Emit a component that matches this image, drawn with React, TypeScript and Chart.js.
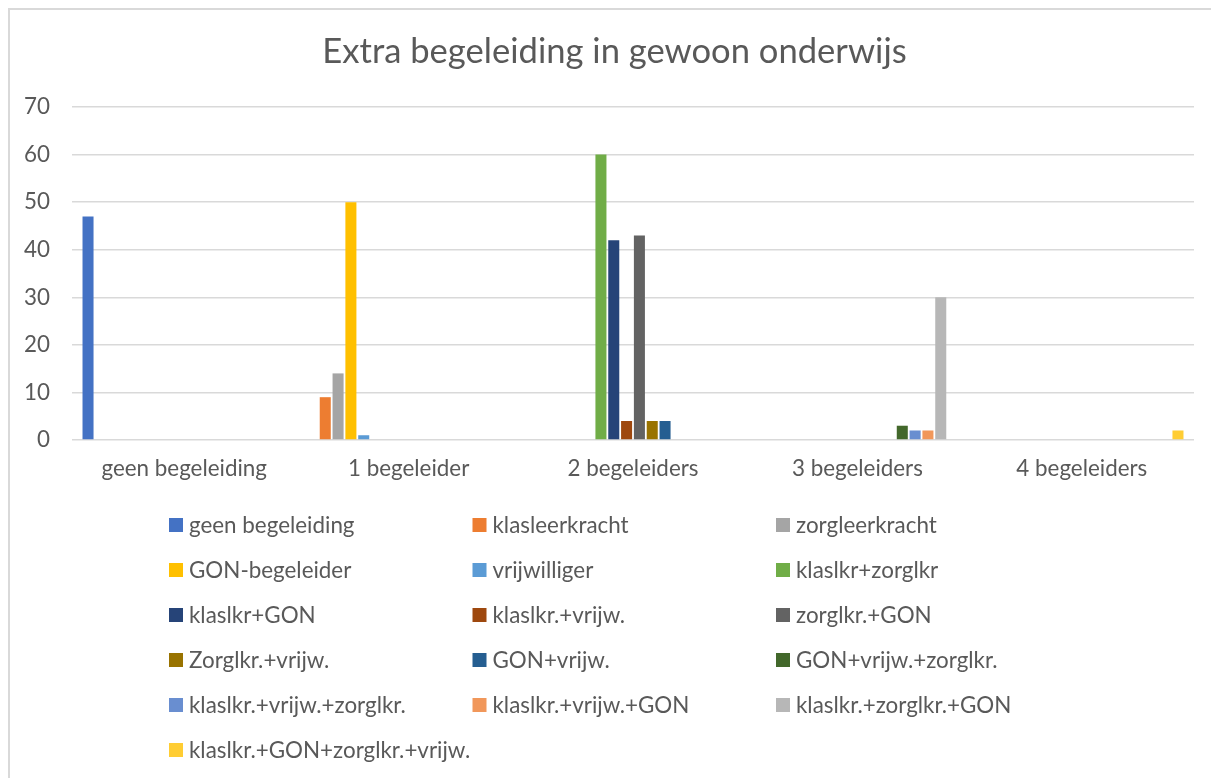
import React, { useEffect, useRef } from 'react';
import { Chart, registerables } from 'chart.js';

Chart.register(...registerables);

// ---------- data ----------
const chartTitle = 'Extra begeleiding in gewoon onderwijs';
const categories = ['geen begeleiding', '1 begeleider', '2 begeleiders', '3 begeleiders', '4 begeleiders'];

const seriesNames = [
  'geen begeleiding', 'klasleerkracht', 'zorgleerkracht',
  'GON-begeleider', 'vrijwilliger', 'klaslkr+zorglkr',
  'klaslkr+GON', 'klaslkr.+vrijw.', 'zorglkr.+GON',
  'Zorglkr.+vrijw.', 'GON+vrijw.', 'GON+vrijw.+zorglkr.',
  'klaslkr.+vrijw.+zorglkr.', 'klaslkr.+vrijw.+GON', 'klaslkr.+zorglkr.+GON',
  'klaslkr.+GON+zorglkr.+vrijw.',
];

const geenBegeleiding = [47, 0, 0, 0, 0];
const klasleerkracht = [0, 9, 0, 0, 0];
const zorgleerkracht = [0, 14, 0, 0, 0];
const gonBegeleider = [0, 50, 0, 0, 0];
const vrijwilliger = [0, 1, 0, 0, 0];
const klaslkrZorglkr = [0, 0, 60, 0, 0];
const klaslkrGon = [0, 0, 42, 0, 0];
const klaslkrVrijw = [0, 0, 4, 0, 0];
const zorglkrGon = [0, 0, 43, 0, 0];
const zorglkrVrijw = [0, 0, 4, 0, 0];
const gonVrijw = [0, 0, 4, 0, 0];
const gonVrijwZorglkr = [0, 0, 0, 3, 0];
const klaslkrVrijwZorglkr = [0, 0, 0, 2, 0];
const klaslkrVrijwGon = [0, 0, 0, 2, 0];
const klaslkrZorglkrGon = [0, 0, 0, 30, 0];
const klaslkrGonZorglkrVrijw = [0, 0, 0, 0, 2];

const seriesValues = [
  geenBegeleiding, klasleerkracht, zorgleerkracht,
  gonBegeleider, vrijwilliger, klaslkrZorglkr,
  klaslkrGon, klaslkrVrijw, zorglkrGon,
  zorglkrVrijw, gonVrijw, gonVrijwZorglkr,
  klaslkrVrijwZorglkr, klaslkrVrijwGon, klaslkrZorglkrGon,
  klaslkrGonZorglkrVrijw,
];

const seriesColors = [
  '#4472C4', '#ED7D31', '#A5A5A5',
  '#FFC000', '#5B9BD5', '#70AD47',
  '#264478', '#9E480E', '#636363',
  '#997300', '#255E91', '#43682B',
  '#698ED0', '#F1975A', '#B7B7B7',
  '#FFCD33',
];

const yMin = 0;
const yMax = 70;
const yStep = 10;

// ---------- styles ----------
const FONT = 'Lato';
const TEXT = '#595959';
const GRID = '#D9D9D9';
const AXIS_SIZE = 22.4;
const TITLE_SIZE = 34.6;
const CANVAS_W = 1209;
const CANVAS_H = 768;

const titlePlugin = {
  id: 'excelTitle',
  afterDraw(chart: any) {
    const ctx = chart.ctx;
    ctx.save();
    ctx.font = `${TITLE_SIZE}px ${FONT}`;
    ctx.fillStyle = TEXT;
    ctx.textAlign = 'center';
    ctx.textBaseline = 'alphabetic';
    ctx.fillText(chartTitle, chart.width / 2, 53);
    ctx.restore();
  },
};

const legendPlugin = {
  id: 'gridLegend',
  afterDraw(chart: any) {
    const ctx = chart.ctx;
    const x0 = 159;
    const colW = 303.5;
    const y0 = 515;
    const rowH = 45;
    const box = 14;
    ctx.save();
    ctx.font = `${AXIS_SIZE}px ${FONT}`;
    ctx.textAlign = 'left';
    ctx.textBaseline = 'alphabetic';
    chart.data.datasets.forEach((ds: any, i: number) => {
      const col = i % 3;
      const row = Math.floor(i / 3);
      const x = x0 + col * colW;
      const cy = y0 + row * rowH;
      ctx.fillStyle = ds.backgroundColor;
      ctx.fillRect(x, cy - box / 2, box, box);
      ctx.fillStyle = TEXT;
      ctx.fillText(ds.label, x + 20, cy + 8);
    });
    ctx.restore();
  },
};

export default function App() {
  const ref = useRef<HTMLCanvasElement | null>(null);

  useEffect(() => {
    document.documentElement.style.overflow = 'hidden';
    document.body.style.overflow = 'hidden';
    let chart: Chart | null = null;
    let cancelled = false;
    const build = () => {
      if (cancelled || !ref.current) return;
      chart = new Chart(ref.current, {
        type: 'bar',
        data: {
          labels: categories,
          datasets: seriesNames.map((name, i) => ({
            label: name,
            data: seriesValues[i],
            backgroundColor: seriesColors[i],
            borderWidth: 0,
            categoryPercentage: 16 / 17.5,
            barPercentage: 0.86,
          })),
        },
        options: {
          responsive: false,
          maintainAspectRatio: false,
          animation: false,
          layout: { padding: { top: 97, right: 25, bottom: 278, left: 0 } },
          plugins: {
            legend: { display: false },
            title: { display: false },
            tooltip: { enabled: false },
          },
          scales: {
            x: {
              ticks: { color: TEXT, font: { family: FONT, size: AXIS_SIZE }, padding: 15, maxRotation: 0 },
              grid: { display: false, drawTicks: false },
              border: { display: false },
              afterFit: (s: any) => { s.height = 60; },
            },
            y: {
              min: yMin,
              max: yMax,
              ticks: { stepSize: yStep, color: TEXT, font: { family: FONT, size: AXIS_SIZE }, padding: 22 },
              grid: { color: GRID, lineWidth: 1.5, drawTicks: false },
              border: { display: false },
              afterFit: (s: any) => { s.width = 62; },
            },
          },
        },
        plugins: [titlePlugin, legendPlugin],
      } as any);
    };
    const fonts: any = (document as any).fonts;
    if (fonts && fonts.load) {
      Promise.all([fonts.load(`${AXIS_SIZE}px ${FONT}`), fonts.load(`${TITLE_SIZE}px ${FONT}`)])
        .catch(() => {})
        .then(build);
    } else {
      build();
    }
    return () => {
      cancelled = true;
      if (chart) chart.destroy();
    };
  }, []);

  return (
    <div
      style={{
        width: 1240,
        height: 800,
        boxSizing: 'border-box',
        borderTop: `2px solid ${GRID}`,
        borderLeft: `2px solid ${GRID}`,
        background: '#fff',
      }}
    >
      <canvas ref={ref} width={CANVAS_W} height={CANVAS_H} style={{ display: 'block', width: CANVAS_W, height: CANVAS_H }} />
    </div>
  );
}
